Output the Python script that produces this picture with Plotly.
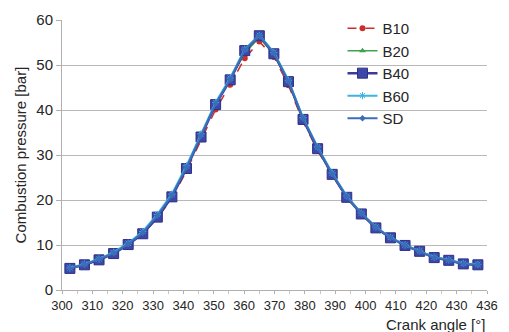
import plotly.graph_objects as go

crank = [302.6, 307.4, 312.2, 317.0, 321.8, 326.6, 331.4, 336.2, 341.0, 345.8,
         350.6, 355.4, 360.2, 365.0, 369.8, 374.6, 379.4, 384.2, 389.0, 393.8,
         398.6, 403.4, 408.2, 413.0, 417.8, 422.6, 427.4, 432.2, 437.0]

b10 = [4.9, 5.7, 6.8, 8.3, 10.2, 12.4, 16.0, 20.3, 26.5, 33.5, 40.1, 45.6, 51.5, 55.2, 51.8,
       45.5, 37.4, 31.0, 25.5, 20.5, 16.8, 13.8, 11.6, 9.9, 8.6, 7.3, 6.6, 5.8, 5.6]
b20 = [4.9, 5.7, 6.8, 8.2, 10.2, 12.6, 16.4, 20.9, 27.3, 34.4, 41.5, 46.9, 52.6, 56.1, 52.3,
       46.1, 37.8, 31.3, 25.6, 20.6, 16.9, 13.8, 11.6, 9.9, 8.6, 7.2, 6.6, 5.8, 5.6]
b40 = [4.8, 5.6, 6.7, 8.1, 10.1, 12.5, 16.2, 20.7, 27.0, 34.0, 41.2, 46.7, 53.2, 56.5, 52.5,
       46.3, 37.9, 31.4, 25.7, 20.6, 16.9, 13.8, 11.6, 9.9, 8.6, 7.2, 6.6, 5.8, 5.6]
b60 = [4.9, 5.8, 6.9, 8.4, 10.4, 13.0, 16.8, 21.3, 27.6, 34.7, 41.7, 47.1, 53.5, 56.6, 52.8,
       46.6, 38.3, 31.8, 26.0, 20.9, 17.1, 14.0, 11.7, 10.0, 8.7, 7.3, 6.7, 5.9, 5.7]
sd = [4.8, 5.7, 6.8, 8.2, 10.2, 12.7, 16.5, 21.0, 27.2, 34.3, 41.4, 46.8, 53.3, 56.5, 52.6,
      46.4, 38.1, 31.6, 25.8, 20.7, 17.0, 13.9, 11.6, 9.9, 8.6, 7.2, 6.6, 5.8, 5.6]

tick_vals = [300, 310, 320, 330, 340, 350, 360, 370, 380, 390, 400, 410, 420, 430, 440]
tick_text = ["300", "310", "320", "330", "340", "350", "360", "370", "380", "390",
             "400", "410", "420", "430", "436"]
y_ticks = [0, 10, 20, 30, 40, 50, 60]

FONT = "Liberation Sans, Arial, sans-serif"
TXT = "#262626"

fig = go.Figure()
series = [
    ("B10", b10, dict(color="#C9302C", width=1.5, dash="dash"), dict(symbol="circle", size=6, color="#C9302C")),
    ("B20", b20, dict(color="#3FA34D", width=1.5), dict(symbol="triangle-up", size=6, color="#3FA34D")),
    ("B40", b40, dict(color="#3A3B9A", width=2.5), dict(symbol="square", size=10, color="#3C47A8",
                                                        line=dict(color="#2E2F86", width=1))),
    ("B60", b60, dict(color="#3DB3E3", width=2), dict(symbol="asterisk-open", size=6, color="#3DB3E3",
                                                      line=dict(color="#3DB3E3", width=1))),
    ("SD", sd, dict(color="#3C6DB8", width=2), dict(symbol="diamond", size=5, color="#3C6DB8")),
]
for name, vals, ln, mk in series:
    fig.add_trace(go.Scatter(x=crank, y=vals, name=name, mode="lines+markers",
                             line=ln, marker=mk, legendgroup=name))

fig.update_layout(
    width=509, height=332,
    margin=dict(l=62, r=11, t=16, b=42),
    paper_bgcolor="white", plot_bgcolor="white",
    font=dict(family=FONT, size=14, color=TXT),
    showlegend=True,
    legend=dict(x=0.66, y=1.03, xanchor="left", yanchor="top",
                bgcolor="rgba(0,0,0,0)", font=dict(size=15, color=TXT),
                itemwidth=30, tracegroupgap=0),
    annotations=[dict(text="Crank angle [°]", x=1.0, y=-0.088, xref="paper", yref="paper",
                      xanchor="right", yanchor="top", showarrow=False,
                      font=dict(size=15, color=TXT))],
)
fig.update_xaxes(range=[300, 440], tickmode="array", tickvals=tick_vals, ticktext=tick_text,
                 showgrid=False, zeroline=False, showline=True, linecolor="#B0B0B0", linewidth=1,
                 ticks="outside", ticklen=3, tickcolor="#B0B0B0",
                 minor=dict(ticks="outside", ticklen=3, tickcolor="#C8C8C8", dtick=5, showgrid=False),
                 tickfont=dict(size=13, color=TXT))
fig.update_yaxes(range=[0, 60], tickmode="array", tickvals=y_ticks,
                 showgrid=True, gridcolor="#B8B8B8", gridwidth=1, zeroline=False,
                 showline=True, linecolor="#B0B0B0", linewidth=1,
                 ticks="outside", ticklen=5, tickcolor="#B0B0B0",
                 tickfont=dict(size=15, color=TXT),
                 title=dict(text="Combustion pressure [bar]", font=dict(size=15, color=TXT), standoff=6))

fig.write_html("out.html")
